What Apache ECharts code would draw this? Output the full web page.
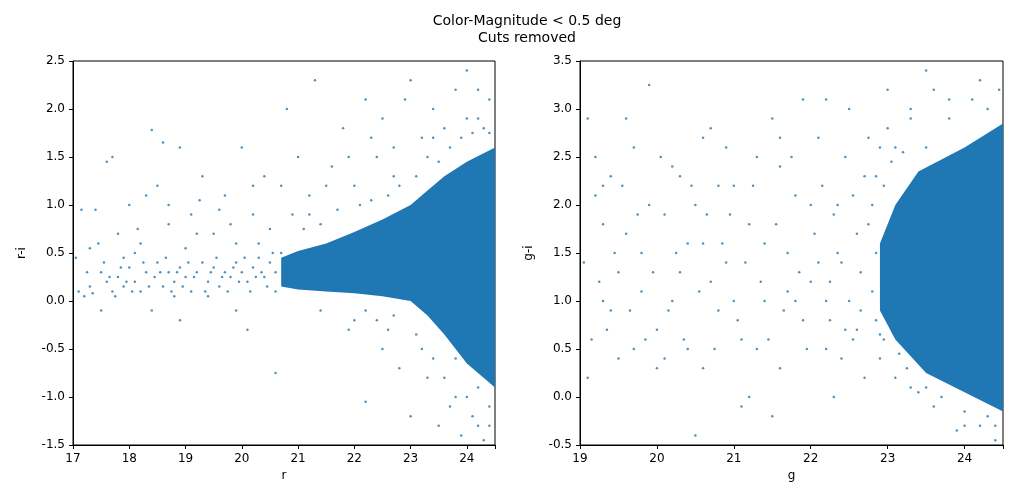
<!DOCTYPE html>
<html><head><meta charset="utf-8">
<script src="https://cdn.jsdelivr.net/npm/echarts@6/dist/echarts.min.js"></script>
<style>html,body{margin:0;padding:0;background:#fff}#c{width:1013px;height:498px}</style>
</head><body><div id="c"></div>
<script>
// Left panel: r vs r-i
const leftCoreUpper = [[20.7,0.45],[21.0,0.52],[21.5,0.6],[22.0,0.72],[22.5,0.85],[23.0,1.0],[23.3,1.15],[23.6,1.3],[24.0,1.45],[24.5,1.6]];
const leftCoreLower = [[24.5,-0.9],[24.0,-0.65],[23.6,-0.35],[23.3,-0.15],[23.0,0.0],[22.5,0.05],[22.0,0.08],[21.5,0.1],[21.0,0.12],[20.7,0.15]];
const leftPoints = [
[17.05,0.45],[17.1,0.1],[17.2,0.05],[17.3,0.15],[17.4,0.95],[17.5,0.3],[17.6,0.2],[17.7,0.1],[17.8,0.25],[17.9,0.15],
[18.0,0.35],[18.1,0.2],[18.2,0.1],[18.3,0.3],[18.4,1.78],[18.45,0.25],[18.5,0.4],[18.6,0.15],[18.7,0.3],[18.8,0.2],
[18.9,0.35],[19.0,0.25],[19.1,0.1],[19.2,0.3],[19.3,0.4],[19.4,0.2],[19.5,0.35],[19.6,0.15],[19.7,0.3],[19.8,0.25],
[19.9,0.4],[20.0,0.3],[20.1,0.2],[20.2,0.35],[20.3,0.45],[20.4,0.25],[20.5,0.4],[20.6,0.3],[20.7,0.5],[20.8,0.35],
[20.9,0.45],[17.3,0.55],[17.6,1.45],[17.8,0.7],[18.0,1.0],[18.2,0.6],[18.5,1.2],[18.7,0.8],[18.9,1.6],[19.1,0.9],
[19.3,1.3],[19.5,0.7],[19.7,1.1],[19.9,0.6],[20.0,1.6],[20.2,0.9],[20.4,1.3],[20.5,0.75],[20.7,1.2],[20.8,2.0],
[20.9,0.9],[21.0,1.5],[21.2,1.1],[21.3,2.3],[21.4,0.8],[21.6,1.4],[21.8,1.8],[22.0,1.2],[22.2,2.1],[22.4,1.5],
[22.5,1.9],[22.7,1.3],[22.9,2.1],[23.0,2.3],[23.2,1.7],[23.4,2.0],[23.6,1.8],[23.8,2.2],[24.0,2.4],[24.2,1.9],
[24.4,2.1],[17.5,-0.1],[18.4,-0.1],[18.9,-0.2],[19.9,-0.1],[20.1,-0.3],[20.6,-0.75],[21.4,-0.1],[21.9,-0.3],[22.2,-1.05],
[22.5,-0.5],[22.8,-0.7],[23.0,-1.2],[23.3,-0.8],[23.5,-1.3],[23.7,-1.1],[23.9,-1.4],[24.1,-1.2],[24.3,-1.45],[24.4,-1.1],
[22.0,-0.2],[22.6,-0.3],[23.2,-0.5],[23.8,-1.0],[24.2,-0.9],[17.9,0.45],[18.3,1.1],[19.0,0.55],[19.6,0.95],[20.3,0.6],
[21.1,0.75],[21.7,0.95],[22.3,1.05],[22.8,1.2],[23.3,1.5],[23.7,1.6],[24.1,1.75],[24.3,1.8],[21.5,0.3],[21.8,0.5],
[22.1,0.4],[20.95,0.2],[20.6,0.1],[19.4,0.05],[18.8,0.05],[17.15,0.95],[17.45,0.6],[18.15,0.75],[18.6,1.65],[19.25,1.05],
[17.25,0.3],[17.35,0.08],[17.55,0.4],[17.65,0.25],[17.75,0.05],[17.85,0.35],[17.95,0.2],[18.05,0.1],[18.25,0.4],[18.35,0.15],
[18.55,0.3],[18.65,0.45],[18.75,0.1],[18.85,0.3],[18.95,0.15],[19.05,0.4],[19.15,0.25],[19.35,0.1],[19.45,0.3],[19.55,0.45],
[19.65,0.25],[19.75,0.1],[19.85,0.35],[19.95,0.2],[20.05,0.45],[20.15,0.1],[20.25,0.25],[20.35,0.3],[20.45,0.15],[20.55,0.5],
[21.2,0.9],[21.5,1.2],[21.9,1.5],[22.1,1.0],[22.3,1.7],[22.6,1.1],[22.7,1.6],[23.1,1.3],[23.4,1.7],[23.5,1.45],
[23.9,1.7],[24.0,1.9],[24.2,2.2],[24.4,1.75],[22.2,-0.1],[22.4,-0.2],[22.7,-0.15],[23.1,-0.35],[23.4,-0.6],[23.6,-0.8],
[23.8,-0.6],[24.0,-1.0],[24.2,-1.3],[24.4,-1.3],[20.2,1.2],[19.8,0.8],[19.2,0.7],[18.7,1.0],[18.1,0.5],[17.7,1.5]
];
// Right panel: g vs g-i
const rightCoreUpper = [[22.9,1.6],[23.1,2.0],[23.4,2.35],[24.0,2.6],[24.5,2.85]];
const rightCoreLower = [[24.5,-0.15],[24.0,0.05],[23.5,0.25],[23.1,0.6],[22.9,0.9]];
const rightPoints = [
[19.05,1.4],[19.1,2.9],[19.15,0.6],[19.2,2.1],[19.3,1.0],[19.4,2.3],[19.5,0.4],[19.6,1.7],[19.7,2.6],[19.8,1.1],
[19.9,3.25],[20.0,0.7],[20.1,1.9],[20.2,2.4],[20.3,1.3],[20.4,0.5],[20.5,2.0],[20.6,1.6],[20.7,2.8],[20.8,0.9],
[20.9,1.4],[21.0,2.2],[21.1,0.6],[21.2,1.8],[21.3,2.5],[21.4,1.0],[21.5,2.9],[21.6,0.3],[21.7,1.5],[21.8,2.1],
[21.9,0.8],[22.0,1.2],[22.1,2.7],[22.2,0.5],[22.3,1.9],[22.4,1.4],[22.5,3.0],[22.6,0.7],[22.7,2.3],[22.8,1.1],
[22.9,2.6],[23.0,3.2],[23.1,0.2],[23.3,2.9],[23.5,3.4],[23.6,-0.1],[23.8,3.1],[24.0,-0.3],[24.2,3.3],[24.4,-0.45],
[19.1,0.2],[19.3,1.8],[19.5,1.3],[19.7,0.5],[19.9,2.0],[20.2,1.0],[20.4,1.6],[20.6,0.3],[20.8,2.2],[21.0,1.0],
[21.2,0.0],[21.4,1.6],[21.6,2.4],[21.8,1.0],[22.0,2.0],[22.2,1.0],[22.4,0.4],[22.6,1.7],[22.8,2.0],[22.9,0.4],
[21.1,-0.1],[21.5,-0.2],[20.5,-0.4],[22.3,0.0],[22.7,0.2],[20.0,0.3],[19.6,2.9],[20.9,2.6],[21.9,3.1],[22.2,3.1],
[23.4,1.0],[23.7,1.5],[24.1,1.2],[24.3,0.8],[23.9,2.0],[23.2,1.2],[22.5,1.0],[22.1,1.4],[21.7,1.1],[21.3,0.5],
[20.7,1.2],[20.3,2.3],[19.8,1.5],[19.4,0.9],[19.2,2.5],[23.1,2.6],[23.3,0.1],[23.9,-0.35],[24.45,3.2],[24.3,-0.2],
[19.25,1.2],[19.35,0.7],[19.45,1.5],[19.55,2.2],[19.65,0.9],[19.75,1.9],[19.85,0.6],[19.95,1.3],[20.05,2.5],[20.15,0.9],
[20.25,1.5],[20.35,0.6],[20.45,2.2],[20.55,1.1],[20.65,1.9],[20.75,0.5],[20.85,1.6],[20.95,1.9],[21.05,0.8],[21.15,1.4],
[21.25,2.2],[21.35,1.2],[21.45,0.6],[21.55,1.8],[21.65,0.9],[21.75,2.5],[21.85,1.3],[21.95,0.5],[22.05,1.7],[22.15,2.2],
[22.25,0.8],[22.35,1.5],[22.45,2.5],[22.55,0.6],[22.65,1.3],[22.75,1.8],[22.85,0.8],[22.95,1.3],[22.35,2.0],[22.55,2.1],
[22.75,2.7],[22.85,1.5],[22.65,0.9],[22.45,0.7],[22.25,1.2],[23.0,2.8],[23.3,3.0],[23.6,3.2],[23.8,2.9],[24.1,3.1],
[24.3,3.0],[23.7,0.0],[24.0,-0.15],[24.2,-0.3],[23.4,0.05],[24.4,-0.3],[21.6,2.7],[20.6,2.7],[19.3,2.2],[20.1,0.4],
[22.95,2.2],[23.05,2.45],[23.2,2.55],[23.15,0.45],[23.25,0.3],[22.95,0.6],[23.5,2.6],[23.5,0.1],[22.85,2.3],[22.9,0.65]
];

const C = '#1f77b4';
function area(upper, lower, xi, yi){
  const poly = upper.concat(lower);
  return {type:'custom', xAxisIndex:xi, yAxisIndex:yi, data:[0], silent:true, z:1, clip:true,
    renderItem:(p,api)=>({type:'polygon', shape:{points:poly.map(q=>api.coord(q))},
      style:{fill:C}})};
}
const lbl = {color:'#000',fontSize:12,fontFamily:'DejaVu Sans'};
function ax(o){return Object.assign({axisLine:{show:true,onZero:false,lineStyle:{color:'#000'}},
  axisTick:{show:true,length:4,lineStyle:{color:'#000'}},splitLine:{show:false},nameLocation:'middle',
  nameTextStyle:lbl},o);}
const chart = echarts.init(document.getElementById('c'));
chart.setOption({
  animation:false,
  title:{text:'Color-Magnitude < 0.5 deg\nCuts removed',left:522,top:8,textAlign:'center',
    textStyle:{fontSize:14,fontWeight:'normal',color:'#000',fontFamily:'DejaVu Sans',lineHeight:17}},
  grid:[{left:73,top:61,width:422,height:384,show:true,borderColor:'#000',borderWidth:1},
        {left:580,top:61,width:423,height:384,show:true,borderColor:'#000',borderWidth:1}],
  xAxis:[ax({gridIndex:0,min:17,max:24.5,interval:1,name:'r',nameGap:22,
           axisLabel:Object.assign({},lbl,{formatter:v=>Number.isInteger(v)?String(v):''})}),
         ax({gridIndex:1,min:19,max:24.5,interval:1,name:'g',nameGap:22,
           axisLabel:Object.assign({},lbl,{formatter:v=>Number.isInteger(v)?String(v):''})})],
  yAxis:[ax({gridIndex:0,min:-1.5,max:2.5,interval:0.5,name:'r-i',nameGap:45,
           axisLabel:Object.assign({},lbl,{formatter:v=>v.toFixed(1)})}),
         ax({gridIndex:1,min:-0.5,max:3.5,interval:0.5,name:'g-i',nameGap:45,
           axisLabel:Object.assign({},lbl,{formatter:v=>v.toFixed(1)})})],
  series:[
    area(leftCoreUpper,leftCoreLower,0,0),
    {type:'scatter',xAxisIndex:0,yAxisIndex:0,data:leftPoints,symbolSize:2.5,itemStyle:{color:C},z:2},
    area(rightCoreUpper,rightCoreLower,1,1),
    {type:'scatter',xAxisIndex:1,yAxisIndex:1,data:rightPoints,symbolSize:2.5,itemStyle:{color:C},z:2}
  ]
});
</script></body></html>
